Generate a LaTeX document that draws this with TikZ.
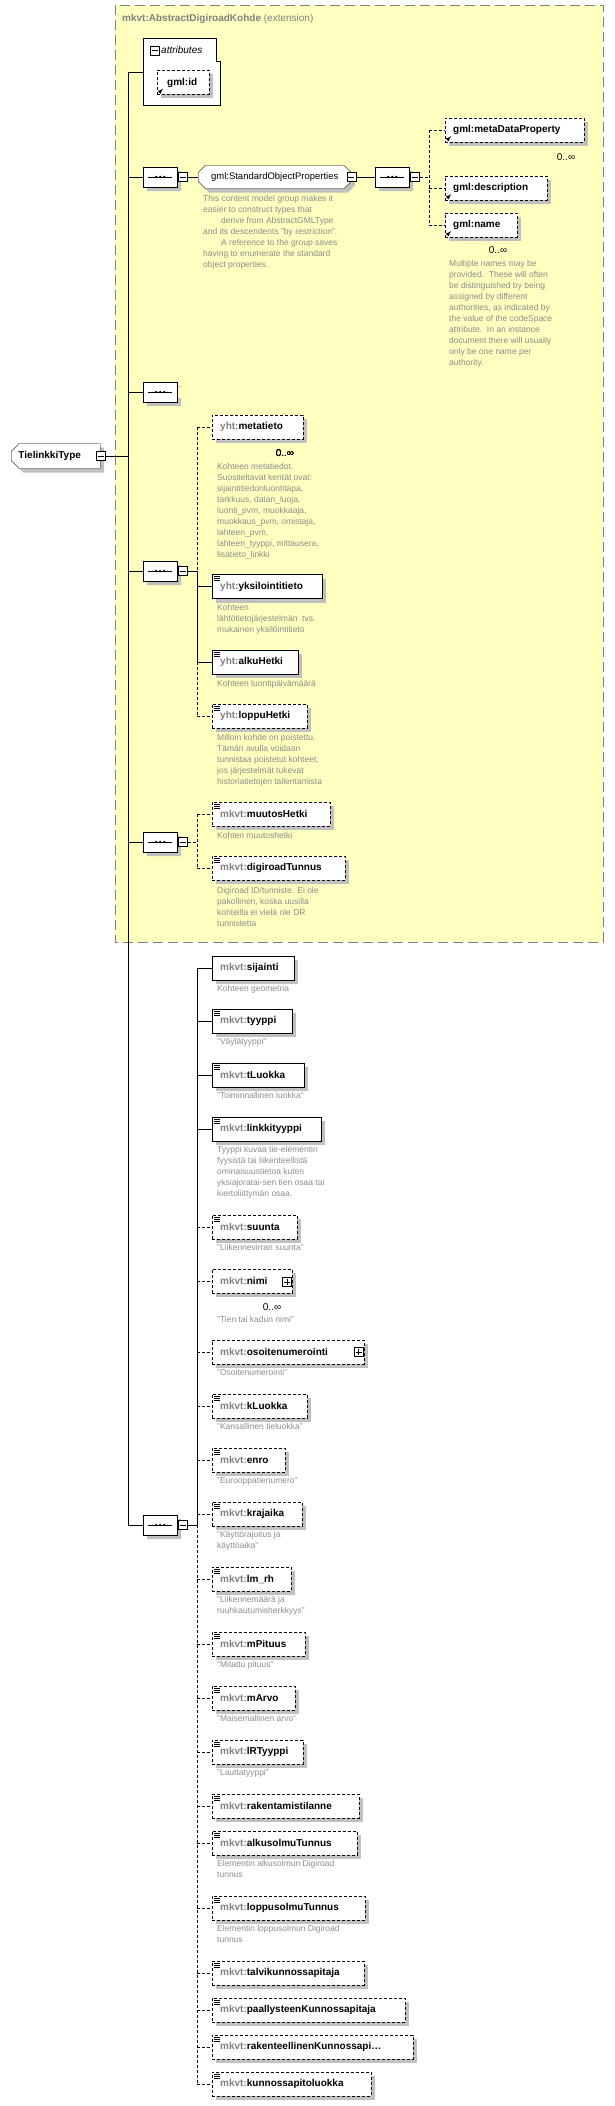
\documentclass[tikz,border=0pt]{standalone}
\usepackage{fontspec}
\setmainfont{Liberation Sans}
\usetikzlibrary{shapes.misc,shadows,positioning,calc}
\definecolor{schemayellow}{HTML}{FFFFC0}
\definecolor{framegray}{HTML}{808080}
\definecolor{notegray}{HTML}{8C8C8C}
\definecolor{shadowgray}{HTML}{C0C0C0}
\tikzset{
  shade4/.style={drop shadow={shadow xshift=4pt, shadow yshift=-4pt, fill=shadowgray, opacity=1}},
  req/.style={draw, fill=white, shade4, anchor=west, minimum height=24pt, inner xsep=8pt, inner ysep=0pt,
    align=left, font=\fontsize{10}{12}\selectfont\bfseries},
  opt/.style={req, dash pattern=on 3pt off 2pt},
  req link/.style={},
  opt link/.style={dash pattern=on 3pt off 2pt},
  note/.style={anchor=north west, inner sep=0pt, align=left, text=notegray, font=\fontsize{8.5}{11}\selectfont},
  seqbox/.style={chamfered rectangle, chamfered rectangle xsep=6pt, chamfered rectangle ysep=6pt, draw, fill=white,
    shade4, minimum width=34pt, minimum height=20pt, inner sep=0pt, anchor=west},
  togglebox/.style={draw, fill=white, minimum size=9pt, inner sep=0pt},
  mult/.style={inner sep=0pt, font=\fontsize{10}{12}\selectfont},
}
\newcommand{\pfx}[1]{\textcolor{framegray}{#1:}}
% sequence compositor with its toggle
\newcommand{\seqnode}[3]{%
  \node[seqbox] (#1) at (#2,#3) {};
  \draw ([xshift=-12pt]#1.center) -- ([xshift=12pt]#1.center);
  \foreach \d in {-4,0,4} \fill ([xshift=\d pt]#1.center) circle (1.3pt);
  \node[togglebox, right=1pt of #1] (#1m) {};
  \draw ([xshift=-3pt]#1m.center) -- ([xshift=3pt]#1m.center);}
\newcommand{\togplus}[2]{%
  \node[togglebox] (#1) at (#2) {};
  \draw ([xshift=-3pt]#1.center) -- ([xshift=3pt]#1.center) ([yshift=-3pt]#1.center) -- ([yshift=3pt]#1.center);}
\newcommand{\togminus}[2]{%
  \node[togglebox] (#1) at (#2) {};
  \draw ([xshift=-3pt]#1.center) -- ([xshift=3pt]#1.center);}
\newcommand{\typeicon}[1]{%
  \foreach \k in {2,4,6} \draw[line width=0.6pt] ([shift={(2,\k)}]#1.north west) -- ++(6,0);}
\newcommand{\reficon}[1]{%
  \draw[-latex, line width=0.8pt] ([shift={(2,-2)}]#1.south west) -- ++(4,-4);}
\newcommand{\manymark}{0..∞}

\begin{document}
\begin{tikzpicture}[x=1pt,y=-1pt]
\useasboundingbox (0,0) rectangle (614,2106);
% extension frame
\draw[framegray, fill=schemayellow, dash pattern=on 10pt off 5pt] (115,5) rectangle (603,942);
\node[anchor=west, inner sep=0pt, font=\fontsize{10}{12}\selectfont, text=framegray] (ext) at (122,19)
  {\textbf{mkvt:AbstractDigiroadKohde} (extension)};

% root type
\node[chamfered rectangle, chamfered rectangle corners={north west,south west}, chamfered rectangle xsep=4pt,
  chamfered rectangle ysep=4pt, draw, fill=white, shade4, minimum width=89pt, minimum height=25pt, inner sep=0pt,
  anchor=west, font=\fontsize{10}{12}\selectfont\bfseries] (root) at (11,456) {\hspace*{-12pt}TielinkkiType};
\togminus{rootm}{100.5,456}
\coordinate (busT) at (128,456);
\coordinate (bus0) at (128,72);
\coordinate (bus1) at (128,1525);
\draw (rootm.east) -- (busT);
\draw (bus0) -- (bus1);

% attributes
\draw[fill=white] (143,38) -- (216,38) -- (216,61) -- (220,61) -- (220,105) -- (143,105) -- cycle;
\coordinate (attr) at (143,72);
\draw (bus0) -- (attr);
\togminus{attrm}{154.5,50.5}
\node[anchor=west, inner sep=0pt, font=\fontsize{10}{12}\selectfont\itshape] (attrlbl) at (161,50) {attributes};
\node[opt, minimum width=52pt, inner xsep=0pt, text width=44pt] (gmlid) at (157,82.5) {\hspace*{6pt}gml:id};
\reficon{gmlid}

% first sequence: standard object properties
\seqnode{seqA}{143}{177}
\draw (seqA.west -| bus0) -- (seqA.west);
\node[chamfered rectangle, chamfered rectangle xsep=3pt, chamfered rectangle ysep=4pt, draw, fill=white, shade4,
  minimum width=153pt, minimum height=23pt, inner sep=0pt, anchor=west, font=\fontsize{9.5}{12}\selectfont]
  (sop) at (198,177) {gml:StandardObjectProperties};
\draw (seqAm.east) -- (sop.west);
\togminus{sopm}{sop.east}
\seqnode{seqB}{375}{177}
\draw (sopm.east) -- (seqB.west);
\node[note] (sopnote) at (203,195) {This content model group makes it\\easier to construct types that\\
  \hspace*{18pt}derive from AbstractGMLType\\and its descendents "by restriction".\\
  \hspace*{18pt}A reference to the group saves\\having to enumerate the standard\\object properties.};
\coordinate (barB0) at (429,130);
\coordinate (barB1) at (429,225);
\draw[opt link] (seqBm.east) -- (seqBm.east -| barB0);
\draw[opt link] (barB0) -- (barB1);
\node[opt, minimum width=139pt, text width=123pt] (metaprop) at (445,130) {gml:metaDataProperty};
\node[opt, minimum width=102pt, text width=86pt] (descr) at (445,188) {gml:description};
\node[opt, minimum width=72pt, text width=56pt] (gname) at (445,225) {gml:name};
\foreach \b in {metaprop,descr,gname} {\draw[opt link] (\b.west -| barB0) -- (\b.west); \reficon{\b}}
\node[mult] (metapropm) at (566,157) {\manymark};
\node[mult] (gnamem) at (498,250) {\manymark};
\node[note] (gnamenote) at (449,260) {Multiple names may be\\provided.\ \ These will often\\be distinguished by being\\
  assigned by different\\authorities, as indicated by\\the value of the codeSpace\\attribute.\ \ In an instance\\
  document there will usually\\only be one name per\\authority.};

% empty sequence
\seqnode{seqC}{143}{392}
\draw (seqC.west -| bus0) -- (seqC.west);
\path (seqCm) node[fill=schemayellow, minimum size=11pt] {};

% yht sequence
\seqnode{seqD}{143}{571}
\draw (seqD.west -| bus0) -- (seqD.west);
\coordinate (barD0) at (197,427);
\coordinate (barD) at (197,571);
\coordinate (barD1) at (197,662);
\coordinate (barD2) at (197,716);
\draw (seqDm.east) -- (barD) -- (barD1);
\draw[opt link] (barD0) -- (barD) (barD1) -- (barD2);
\node[opt, minimum width=91pt, text width=75pt] (metatieto) at (212,427) {\pfx{yht}metatieto};
\node[req, minimum width=110pt, text width=94pt] (yksil) at (212,586.5) {\pfx{yht}yksilointitieto};
\node[req, minimum width=86pt, text width=70pt] (alku) at (212,662) {\pfx{yht}alkuHetki};
\node[opt, minimum width=95pt, text width=79pt] (loppu) at (212,716) {\pfx{yht}loppuHetki};
\draw[opt link] (metatieto.west -| barD) -- (metatieto.west);
\draw (yksil.west -| barD) -- (yksil.west);
\draw (alku.west -| barD) -- (alku.west);
\draw[opt link] (loppu.west -| barD) -- (loppu.west);
\foreach \b in {yksil,alku,loppu} \typeicon{\b}
\node[mult] (metatietom) at (285,453) {\manymark};
\node[note] (metatietonote) at (217,463) {Kohteen metatiedot.\\Suositeltavat kentät ovat:\\sijaintitiedonluontitapa,\\
  tarkkuus, datan\_luoja,\\luonti\_pvm, muokkaaja,\\muokkaus\_pvm, omistaja,\\lahteen\_pvm,\\
  lahteen\_tyyppi, mittausera,\\lisatieto\_linkki};
\node[note] (yksilnote) at (217,604) {Kohteen\\lähtötietojärjestelmän\ \ tvs.\\mukainen yksilöintitieto};
\node[note] (alkunote) at (217,680) {Kohteen luontipäivämäärä};
\node[note] (loppunote) at (217,734) {Milloin kohde on poistettu.\\Tämän avulla voidaan\\tunnistaa poistetut kohteet,\\
  jos järjestelmät tukevat\\historiatietojen tallentamista};

% mkvt sequence inside frame
\seqnode{seqE}{143}{842}
\draw (seqE.west -| bus0) -- (seqE.west);
\coordinate (barE0) at (197,814);
\coordinate (barE1) at (197,868);
\draw[opt link] (seqEm.east) -- (seqEm.east -| barE0) (barE0) -- (barE1);
\node[opt, minimum width=118pt, text width=102pt] (muutos) at (212,814) {\pfx{mkvt}muutosHetki};
\node[opt, minimum width=133pt, text width=117pt] (digiroad) at (212,868) {\pfx{mkvt}digiroadTunnus};
\foreach \b in {muutos,digiroad} {\draw[opt link] (\b.west -| barE0) -- (\b.west); \typeicon{\b}}
\node[note] (muutosnote) at (217,832) {Kohten muutoshetki};
\node[note] (digiroadnote) at (217,887) {Digiroad ID/tunniste. Ei ole\\pakollinen, koska uusilla\\
  kohteilla ei vielä ole DR\\tunnistetta};

% own sequence
\seqnode{seqF}{143}{1525}
\draw (bus1) -- (seqF.west);
\coordinate (barF0) at (197,968);
\coordinate (barF) at (197,1525);
\coordinate (barF1) at (197,2084);
\draw (seqFm.east) -- (barF);
\draw (barF0) -- (barF);
\draw[opt link] (barF) -- (barF1);
\foreach \nm/\yy/\rr/\kind/\ic/\no/\nt [count=\i] in {
  sijainti/968/294/req/0/17/{Kohteen geometria},
  tyyppi/1021/292/req/1/17/{"Väylätyyppi"},
  tLuokka/1075/304/req/1/17/{"Toiminnallinen luokka"},
  linkkityyppi/1129/321/req/1/17/{Tyyppi kuvaa tie-elementin\\fyysistä tai liikenteellistä\\ominaisuustietoa kuten\\yksiajoratai-sen tien osaa tai\\kiertoliittymän osaa.},
  suunta/1227/297/opt/1/17/{"Liikennevirran suunta"},
  nimi/1281/292/opt/0/35/{"Tien tai kadun nimi"},
  osoitenumerointi/1352/364/opt/0/17/{"Osoitenumerointi"},
  kLuokka/1406/307/opt/1/17/{"Kansallinen tieluokka"},
  enro/1460/285/opt/1/17/{"Eurooppatienumero"},
  krajaika/1514/302/opt/1/17/{"Käyttörajoitus ja\\käyttöaika"},
  lm\_rh/1579/291/opt/1/17/{"Liikennemäärä ja\\ruuhkautumisherkkyys"},
  mPituus/1644/305/opt/1/17/{"Mitattu pituus"},
  mArvo/1698/295/opt/1/17/{"Maisemallinen arvo"},
  lRTyyppi/1752/303/opt/1/17/{"Lauttatyyppi"},
  rakentamistilanne/1806/359/opt/1/17/{},
  alkusolmuTunnus/1843/357/opt/1/17/{Elementin alkusolmun Digiroad\\tunnus},
  loppusolmuTunnus/1908/365/opt/1/17/{Elementin loppusolmun Digiroad\\tunnus},
  talvikunnossapitaja/1973/364/opt/1/17/{},
  paallysteenKunnossapitaja/2010/405/opt/1/17/{},
  {rakenteellinenKunnossapi\ldots}/2047/413/opt/1/17/{},
  kunnossapitoluokka/2084/371/opt/1/17/{}} {
  \pgfmathsetmacro\ww{\rr-212-16}
  \pgfmathsetmacro\bw{\rr-212}
  \pgfmathsetmacro\ny{\yy+\no}
  \node[\kind, minimum width=\bw pt, text width=\ww pt] (e\i) at (212,\yy) {\pfx{mkvt}\nm};
  \draw[\kind\space link] (e\i.west -| barF) -- (e\i.west);
  \ifnum\ic=1 \typeicon{e\i}\fi
  \node[note] (n\i) at (217,\ny) {\nt};
}
\togplus{nimip}{287,1282}
\togplus{osoitep}{358.5,1352}
\node[mult] (nimim) at (272,1307) {\manymark};
\end{tikzpicture}
\end{document}
